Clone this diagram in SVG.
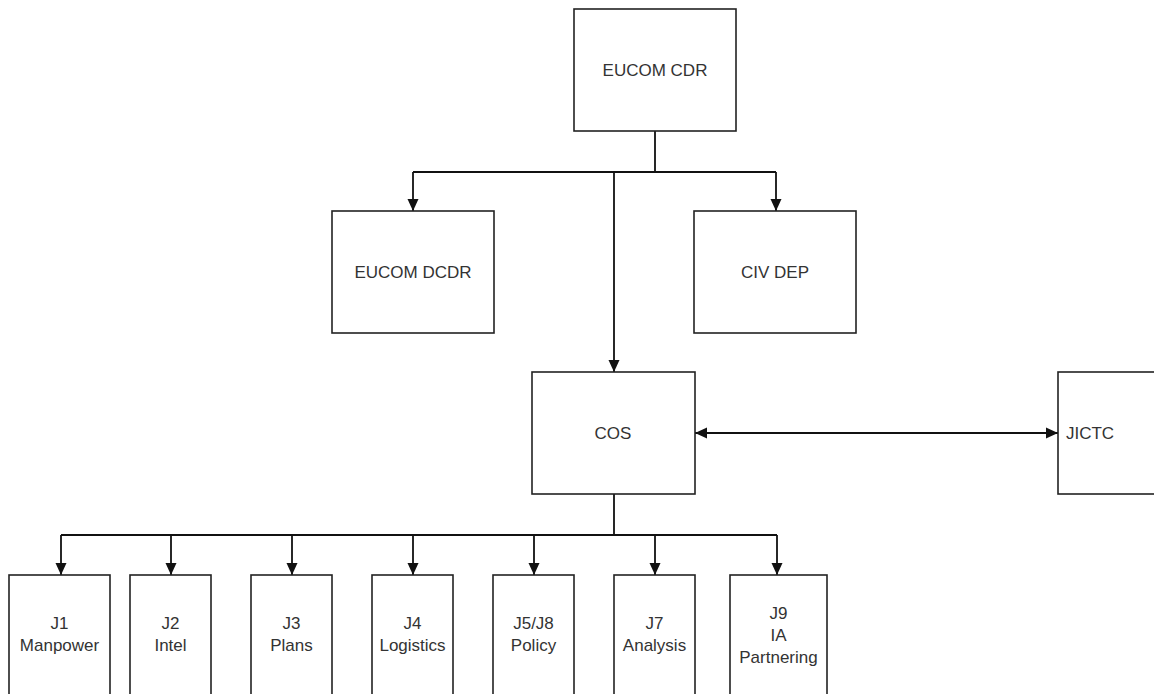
<svg xmlns="http://www.w3.org/2000/svg" width="1154" height="694" viewBox="0 0 1154 694">
<style>
.box{fill:#fff;stroke:#222;stroke-width:1.6}
.lbl{font-family:"Liberation Sans",Arial,sans-serif;font-size:17px;fill:#333;text-anchor:middle}
.ln{fill:none;stroke:#111;stroke-width:1.8}
</style>
<defs>
<marker id="ah" viewBox="0 0 12 12" refX="12" refY="6" markerWidth="12" markerHeight="12" markerUnits="userSpaceOnUse" orient="auto-start-reverse">
<path d="M0,0.5 L12,6 L0,11.5 Z" fill="#111"/>
</marker>
</defs>
<rect width="1154" height="694" fill="#fff"/>
<g id="connectors">
<path class="ln" d="M655,131 V172 M413,172 H776 M614,494 V535 M61,535 H777"/>
<path class="ln" d="M413,172 V211" marker-end="url(#ah)"/>
<path class="ln" d="M776,172 V211" marker-end="url(#ah)"/>
<path class="ln" d="M614,172 V372" marker-end="url(#ah)"/>
<path class="ln" d="M695,433 H1058" marker-start="url(#ah)" marker-end="url(#ah)"/>
<path class="ln" d="M61,535 V575" marker-end="url(#ah)"/>
<path class="ln" d="M171,535 V575" marker-end="url(#ah)"/>
<path class="ln" d="M292,535 V575" marker-end="url(#ah)"/>
<path class="ln" d="M413,535 V575" marker-end="url(#ah)"/>
<path class="ln" d="M534,535 V575" marker-end="url(#ah)"/>
<path class="ln" d="M655,535 V575" marker-end="url(#ah)"/>
<path class="ln" d="M777,535 V575" marker-end="url(#ah)"/>
</g>
<g id="eucom-cdr"><rect class="box" x="574" y="9" width="162" height="122"/><text class="lbl" x="655" y="76">EUCOM CDR</text></g>
<g id="eucom-dcdr"><rect class="box" x="332" y="211" width="162" height="122"/><text class="lbl" x="413" y="278">EUCOM DCDR</text></g>
<g id="civ-dep"><rect class="box" x="694" y="211" width="162" height="122"/><text class="lbl" x="775" y="278">CIV DEP</text></g>
<g id="cos"><rect class="box" x="532" y="372" width="163" height="122"/><text class="lbl" x="613" y="439">COS</text></g>
<g id="jictc"><rect class="box" x="1058" y="372" width="162" height="122"/><text class="lbl" x="1090" y="439">JICTC</text></g>
<g id="j1"><rect class="box" x="9" y="575" width="101" height="124"/><text class="lbl" x="59.5" y="629">J1</text><text class="lbl" x="59.5" y="651">Manpower</text></g>
<g id="j2"><rect class="box" x="130" y="575" width="81" height="124"/><text class="lbl" x="170.5" y="629">J2</text><text class="lbl" x="170.5" y="651">Intel</text></g>
<g id="j3"><rect class="box" x="251" y="575" width="81" height="124"/><text class="lbl" x="291.5" y="629">J3</text><text class="lbl" x="291.5" y="651">Plans</text></g>
<g id="j4"><rect class="box" x="372" y="575" width="81" height="124"/><text class="lbl" x="412.5" y="629">J4</text><text class="lbl" x="412.5" y="651">Logistics</text></g>
<g id="j5j8"><rect class="box" x="493" y="575" width="81" height="124"/><text class="lbl" x="533.5" y="629">J5/J8</text><text class="lbl" x="533.5" y="651">Policy</text></g>
<g id="j7"><rect class="box" x="614" y="575" width="81" height="124"/><text class="lbl" x="654.5" y="629">J7</text><text class="lbl" x="654.5" y="651">Analysis</text></g>
<g id="j9"><rect class="box" x="730" y="575" width="97" height="124"/><text class="lbl" x="778.5" y="619">J9</text><text class="lbl" x="778.5" y="641">IA</text><text class="lbl" x="778.5" y="663">Partnering</text></g>
</svg>
